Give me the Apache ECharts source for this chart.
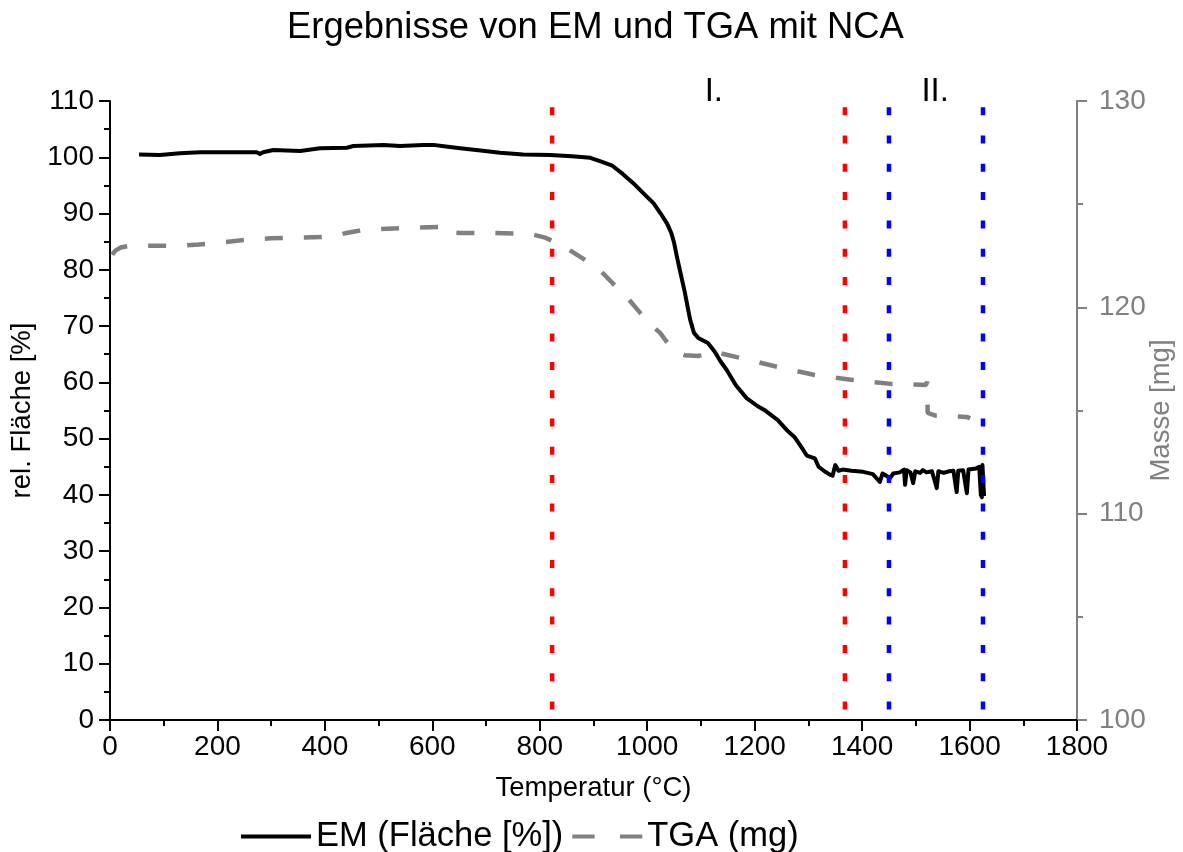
<!DOCTYPE html>
<html>
<head>
<meta charset="utf-8">
<script src="https://cdn.jsdelivr.net/npm/echarts@6/dist/echarts.min.js"></script>
<style>
html,body{margin:0;padding:0;background:#fff;}
#chart{width:1183px;height:852px;}
</style>
</head>
<body>
<div id="chart"></div>
<script>
// ---- data ----
const titleText = 'Ergebnisse von EM und TGA mit NCA';
const xName = 'Temperatur (°C)';
const yLeftName = 'rel. Fläche [%]';
const yRightName = 'Masse [mg]';
const seriesNames = ['EM (Fläche [%])', 'TGA (mg)'];

// EM: [Temperatur, rel. Fläche %]
const emData = [
  [54,100.5],[93,100.4],[130,100.7],[168,100.9],[220,100.9],[273,100.9],[279,100.6],[285,100.9],
  [304,101.3],[354,101.1],[391,101.6],[441,101.7],[453,102.0],[509,102.2],[540,102.0],[583,102.2],
  [602,102.2],[625,101.9],[652,101.6],[690,101.2],[726,100.8],[769,100.5],[819,100.4],[860,100.2],
  [894,99.9],[912,99.3],[935,98.5],[955,97.0],[974,95.4],[995,93.4],[1012,91.8],[1025,90.0],
  [1037,88.2],[1045,86.5],[1050,84.8],[1056,82.0],[1063,79.0],[1070,76.0],[1076,73.0],[1080,71.1],
  [1087,68.8],[1095,67.9],[1105,67.4],[1113,67.0],[1126,65.4],[1136,63.8],[1148,62.2],[1165,59.5],
  [1185,57.2],[1205,55.8],[1218,55.1],[1243,53.3],[1260,51.5],[1275,50.2],[1287,48.5],[1297,47.0],
  [1312,46.5],[1319,45.0],[1330,44.2],[1340,43.6],[1345,43.4],[1350,45.3],[1356,44.3],[1364,44.5],
  [1380,44.3],[1402,44.1],[1420,43.7],[1433,42.3],[1438,43.8],[1452,43.0],[1458,43.8],[1470,44.0],
  [1478,44.5],[1480,41.8],[1483,44.4],[1490,44.0],[1495,42.1],[1499,44.2],[1508,43.9],[1513,44.4],
  [1520,44.0],[1530,44.2],[1539,41.2],[1542,44.2],[1552,43.9],[1562,44.2],[1570,44.3],[1576,40.5],
  [1579,44.3],[1588,44.4],[1595,40.3],[1598,44.5],[1605,44.6],[1612,44.7],[1618,45.0],[1621,40.0],
  [1623,39.6],[1624,45.3],[1626,45.0],[1627,39.8]
];

// TGA: [Temperatur, Masse mg]
const tgaData = [
  [4,122.55],[10,122.75],[20,122.9],[35,122.98],[80,122.98],[130,122.99],[165,123.05],[200,123.12],
  [245,123.25],[300,123.35],[404,123.41],[440,123.6],[471,123.75],[553,123.85],[627,123.9],[633,123.85],
  [639,123.62],[650,123.6],[707,123.61],[782,123.56],[810,123.38],[832,123.12],[860,122.7],[893,122.15],
  [912,121.8],[942,121.0],[965,120.4],[987,119.73],[1005,119.2],[1024,118.76],[1037,118.3],[1050,117.9],
  [1070,117.68],[1095,117.64],[1126,117.86],[1140,117.75],[1173,117.55],[1243,117.11],[1312,116.72],
  [1383,116.48],[1454,116.29],[1519,116.24],[1521,116.4],[1522,114.88],[1538,114.74],[1595,114.69],[1601,114.62]
];

// vertical marker lines (Temperatur) and region labels
const redLines = [823, 1368];
const blueLines = [1450, 1625];
const regionLabels = ['I.', 'II.'];
const regionLabelX = [1124, 1536];

// axis ranges
const xMin = 0, xMax = 1800, xStep = 200;
const yMin = 0, yMax = 110, yStep = 10;
const y2Min = 100, y2Max = 130, y2Step = 10;
const lineTop = 108.9;

// ---- chart ----
const FONT = '"Liberation Sans", Arial, sans-serif';
const chart = echarts.init(document.getElementById('chart'), null, {renderer:'canvas'});

function vline(x, color) {
  return {
    type: 'line', yAxisIndex: 0, silent: true, symbol: 'none', showSymbol: false, z: 5,
    data: [[x, lineTop], [x, yMin]],
    lineStyle: {color: color, width: 4.5, type: [8, 20.3], cap: 'butt'},
    tooltip: {show:false}
  };
}

const series = [
  {
    name: seriesNames[1], type: 'line', yAxisIndex: 1, symbol: 'none', showSymbol: false, z: 2,
    data: tgaData,
    lineStyle: {color: '#808080', width: 4.5, type: [18, 21], cap: 'butt'},
    itemStyle: {color: '#808080'}
  },
  {
    name: seriesNames[0], type: 'line', yAxisIndex: 0, symbol: 'none', showSymbol: false, z: 3,
    data: emData,
    lineStyle: {color: '#000', width: 4, join: 'round'},
    itemStyle: {color: '#000'}
  }
];
redLines.forEach(x => series.push(vline(x, '#ff0000')));
blueLines.forEach(x => series.push(vline(x, '#0000ff')));

const plain = v => String(v);

const option = {
  animation: false,
  backgroundColor: '#fff',
  textStyle: {fontFamily: FONT},
  title: {
    text: titleText, left: 282, top: 5,
    textStyle: {fontFamily: FONT, fontSize: 36.4, fontWeight: 'normal', color: '#000'}
  },
  legend: {
    show: true, orient: 'horizontal', left: 241, top: 819, padding: 0,
    itemGap: 9, itemWidth: 70, itemHeight: 4,
    textStyle: {fontFamily: FONT, fontSize: 34.5, color: '#000'},
    data: [
      {name: seriesNames[0], icon: 'path://M0,0 L70,0 L70,4 L0,4 Z', itemStyle: {color: '#000'}},
      {name: seriesNames[1], icon: 'path://M0,0 L23,0 L23,4 L0,4 Z M49,0 L72,0 L72,4 L49,4 Z', itemStyle: {color: '#808080'}}
    ]
  },
  grid: {left: 110, right: 106, top: 101, bottom: 132, containLabel: false, outerBoundsMode: 'none'},
  xAxis: {
    type: 'value', min: xMin, max: xMax, interval: xStep,
    name: xName, nameLocation: 'middle', nameGap: 54,
    nameTextStyle: {fontFamily: FONT, fontSize: 27.5, color: '#000'},
    axisLine: {show: true, onZero: false, lineStyle: {color: '#000', width: 2}},
    axisTick: {show: true, length: 11, lineStyle: {color: '#000', width: 2}},
    minorTick: {show: true, splitNumber: 2, length: 6, lineStyle: {color: '#000', width: 2}},
    axisLabel: {fontFamily: FONT, fontSize: 28, color: '#000', margin: 13, formatter: plain},
    splitLine: {show: false}
  },
  yAxis: [
    {
      type: 'value', min: yMin, max: yMax, interval: yStep, position: 'left',
      name: yLeftName, nameLocation: 'middle', nameGap: 74, nameRotate: 90,
      nameTextStyle: {fontFamily: FONT, fontSize: 27.5, color: '#000'},
      axisLine: {show: true, onZero: false, lineStyle: {color: '#000', width: 2}},
      axisTick: {show: true, length: 11, lineStyle: {color: '#000', width: 2}},
      minorTick: {show: true, splitNumber: 2, length: 6, lineStyle: {color: '#000', width: 2}},
      axisLabel: {fontFamily: FONT, fontSize: 28, color: '#000', margin: 16, formatter: plain},
      splitLine: {show: false}
    },
    {
      type: 'value', min: y2Min, max: y2Max, interval: y2Step, position: 'right',
      name: yRightName, nameLocation: 'middle', nameGap: 70, nameRotate: 90, nameMoveOverlap: false,
      nameTextStyle: {fontFamily: FONT, fontSize: 27.5, color: '#808080'},
      axisLine: {show: true, onZero: false, lineStyle: {color: '#808080', width: 2}},
      axisTick: {show: true, length: 10, lineStyle: {color: '#808080', width: 2}},
      minorTick: {show: true, splitNumber: 2, length: 6, lineStyle: {color: '#808080', width: 2}},
      axisLabel: {fontFamily: FONT, fontSize: 28, color: '#808080', margin: 22, formatter: plain},
      splitLine: {show: false}
    }
  ],
  series: series
};
chart.setOption(option);

// region labels positioned through the axis scale
const graphics = regionLabels.map((t, i) => {
  const p = chart.convertToPixel({xAxisIndex: 0, yAxisIndex: 0}, [regionLabelX[i], yMax]);
  return {
    type: 'text', x: p[0], y: p[1] + 7, silent: true,
    style: {text: t, fontFamily: FONT, fontSize: 33, fill: '#000', textAlign: 'center', textVerticalAlign: 'bottom'}
  };
});
chart.setOption({graphic: graphics});
</script>
</body>
</html>
